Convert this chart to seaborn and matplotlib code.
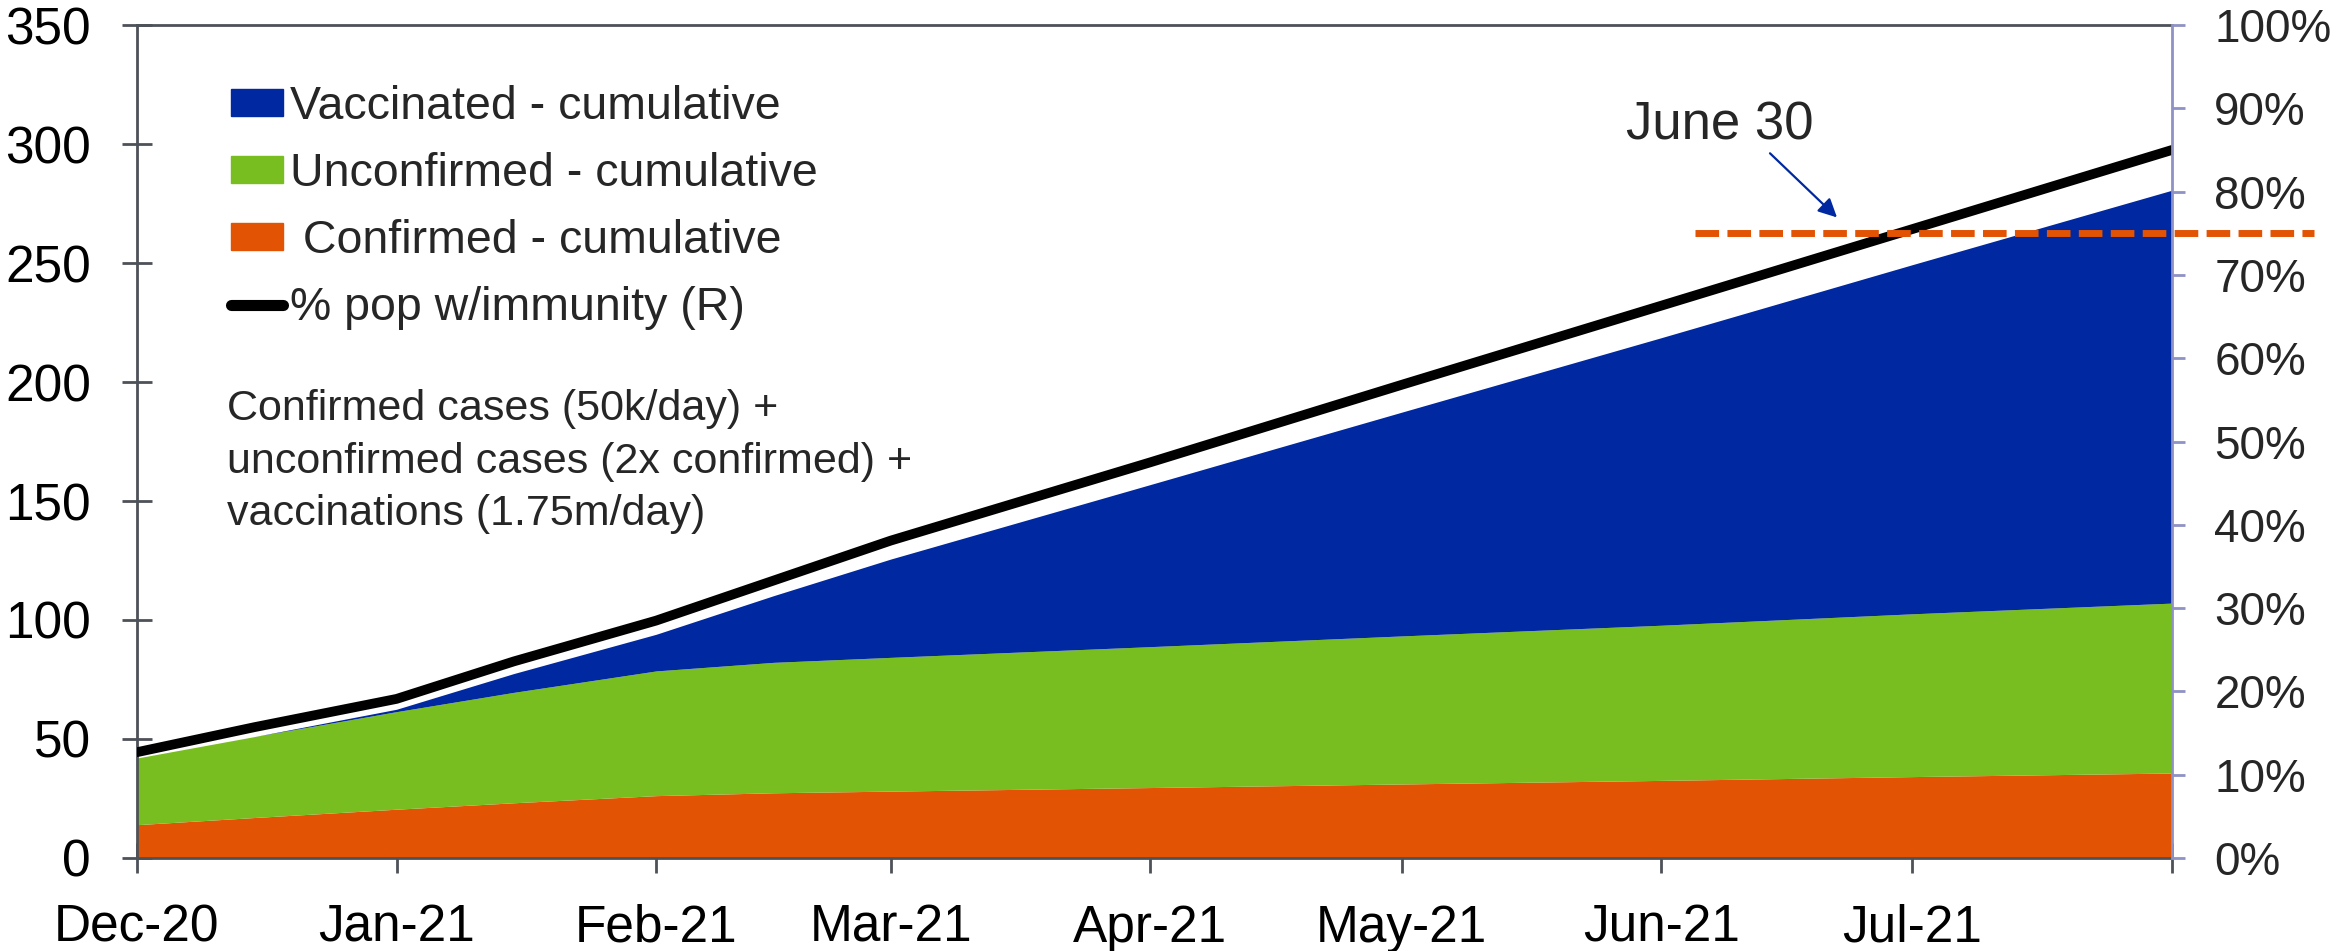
import numpy as np
import pandas as pd
import matplotlib
matplotlib.use('Agg')
import matplotlib.pyplot as plt
from matplotlib.patches import Patch
from matplotlib.lines import Line2D
import seaborn as sns

# values (millions of people, left axis)
dates = pd.to_datetime(['2020-12-01', '2020-12-15', '2021-01-01', '2021-01-15', '2021-02-01',
                        '2021-02-15', '2021-03-01', '2021-04-01', '2021-05-01', '2021-06-01',
                        '2021-07-01', '2021-08-01'])
confirmed = [14.0, 17.0, 20.5, 23.2, 26.2, 27.4, 28.1, 29.6, 31.1, 32.6, 34.2, 35.7]
unconfirmed = [28.0, 34.0, 41.0, 46.4, 52.4, 54.8, 56.2, 59.2, 62.2, 65.2, 68.4, 71.4]
vaccinated = [0.0, 0.0, 1.0, 7.9, 15.4, 28.0, 41.3, 68.1, 94.0, 120.8, 146.7, 173.5]
# % of population with immunity (right axis)
immunity_pct = [0.127, 0.157, 0.191, 0.236, 0.285, 0.333, 0.381, 0.475, 0.568, 0.663,
                0.755, 0.850]

month_ticks = pd.date_range('2020-12-01', '2021-08-01', freq='MS')
month_labels = ['Dec-20', 'Jan-21', 'Feb-21', 'Mar-21', 'Apr-21', 'May-21', 'Jun-21', 'Jul-21', '']
left_ticks = list(range(0, 351, 50))
right_ticks = [i / 10 for i in range(11)]
right_labels = [f'{i * 10}%' for i in range(11)]

target = 0.75
target_start = pd.Timestamp('2021-06-05')
target_end = pd.Timestamp('2021-08-18')

orange = '#E25304'
green = '#78BE20'
blue = '#0028A0'
axis_grey = '#4D5258'
right_col = '#8E92C4'

sns.set_style('white')
plt.rcParams['font.family'] = ['Liberation Sans', 'DejaVu Sans']

fig = plt.figure(figsize=(23.41, 9.51), dpi=100)
ax = fig.add_axes([0.0585, 0.0978, 0.8693, 0.8759])

ax.stackplot(dates, confirmed, unconfirmed, vaccinated,
             colors=[orange, green, blue], linewidth=0)
ax.set_xlim(month_ticks[0], month_ticks[-1])
ax.set_ylim(0, 350)
ax.set_xticks(month_ticks)
ax.set_xticklabels(month_labels)
ax.set_yticks(left_ticks)
ax.tick_params(axis='both', direction='inout', length=22, width=2, color=axis_grey,
               labelsize=37, labelcolor='black', bottom=True, left=True)
ax.tick_params(axis='y', pad=22)
ax.tick_params(axis='x', pad=22)
for side in ['left', 'bottom', 'top']:
    ax.spines[side].set_color(axis_grey)
    ax.spines[side].set_linewidth(2)
ax.spines['right'].set_visible(False)

ax2 = ax.twinx()
sns.lineplot(x=dates, y=immunity_pct, ax=ax2, color='black', linewidth=7)
ax2.set_ylim(0, 1)
ax2.set_yticks(right_ticks)
ax2.set_yticklabels(right_labels)
ax2.set_ylabel('')
ax2.tick_params(axis='y', direction='out', length=9.5, width=2, color=right_col,
                labelsize=33, pad=21, right=True)
for side in ['left', 'bottom', 'top']:
    ax2.spines[side].set_visible(False)
ax2.spines['right'].set_color(right_col)
ax2.spines['right'].set_linewidth(2)

ax2.hlines(target, target_start, target_end, colors=orange, linewidth=5,
           linestyles=(0, (3.4, 1.2)), clip_on=False)
ax2.text(pd.Timestamp('2021-06-08'), 0.862, 'June 30', ha='center', va='baseline', fontsize=38)
ax2.annotate('', xy=(pd.Timestamp('2021-06-22'), 0.769), xytext=(pd.Timestamp('2021-06-14'), 0.846),
             arrowprops=dict(arrowstyle='-|>', color=blue, lw=1.6, mutation_scale=28,
                             shrinkA=0, shrinkB=0))

handles = [Patch(color=blue), Patch(color=green), Patch(color=orange),
           Line2D([], [], color='black', lw=8, solid_capstyle='round')]
labels = ['Vaccinated - cumulative', 'Unconfirmed - cumulative', ' Confirmed - cumulative',
          '% pop w/immunity (R)']
ax2.legend(handles, labels, loc='upper left', bbox_to_anchor=(0.0462, 0.9285), frameon=False,
           fontsize=33.5, handlelength=1.12, handleheight=0.52, handletextpad=0.15,
           labelspacing=0.5, borderpad=0, borderaxespad=0)

ax.text(0.0442, 0.563, 'Confirmed cases (50k/day) +\nunconfirmed cases (2x confirmed) +\nvaccinations (1.75m/day)',
        transform=ax.transAxes, ha='left', va='top', fontsize=31, linespacing=1.41)

fig.savefig('out.png', dpi=100)
